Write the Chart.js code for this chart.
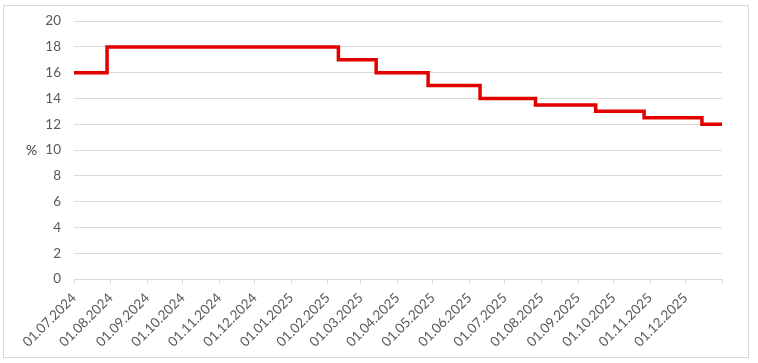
<!DOCTYPE html>
<html>
<head>
<meta charset="utf-8">
<script src="https://cdn.jsdelivr.net/npm/chart.js@4/dist/chart.umd.min.js"></script>
<style>
  html, body { margin: 0; padding: 0; background: #fff; }
  #wrap { width: 758px; height: 363px; position: relative; }
</style>
</head>
<body>
<div id="wrap"><canvas id="graph"></canvas></div>
<script>
// fechas de cambio de la tasa y sus valores (%)
let fechas = ["01.07.2024","29.07.2024","10.02.2025","14.03.2025","27.04.2025","10.06.2025","27.07.2025","16.09.2025","27.10.2025","15.12.2025","01.01.2026"];
let tasas = [16, 18, 17, 16, 15, 14, 13.5, 13, 12.5, 12, 12];
// etiquetas del eje x (primer dia de cada mes)
let etiquetas = ["01.07.2024","01.08.2024","01.09.2024","01.10.2024","01.11.2024","01.12.2024","01.01.2025","01.02.2025","01.03.2025","01.04.2025","01.05.2025","01.06.2025","01.07.2025","01.08.2025","01.09.2025","01.10.2025","01.11.2025","01.12.2025","01.01.2026"];
let ticksY = [0, 2, 4, 6, 8, 10, 12, 14, 16, 18, 20];

const base = Date.UTC(2024, 6, 1);
function dias(s) {
    const p = s.split('.');
    return (Date.UTC(+p[2], +p[1] - 1, +p[0]) - base) / 86400000;
}

const puntos = fechas.map((f, i) => ({ x: dias(f), y: tasas[i] }));
const diasTicks = etiquetas.map(dias);

const marco = {
    id: 'marco',
    beforeDraw(chart) {
        const ctx = chart.ctx;
        ctx.save();
        ctx.strokeStyle = '#d9d9d9';
        ctx.lineWidth = 1;
        ctx.strokeRect(3.5, 5.5, 745, 352);
        ctx.restore();
    },
    afterDraw(chart) {
        const ctx = chart.ctx;
        ctx.save();
        ctx.fillStyle = '#404040';
        ctx.font = '14px Lato';
        ctx.textAlign = 'left';
        ctx.textBaseline = 'middle';
        ctx.fillText('%', 26, chart.scales.y.getPixelForValue(10));
        ctx.restore();
    }
};

const graph = document.getElementById('graph');
new Chart(graph, {
    type: 'line',
    data: {
        datasets: [{
            data: puntos,
            stepped: true,
            borderColor: 'rgb(226,0,0)',
            borderWidth: 3.5,
            pointRadius: 0,
            fill: false
        }]
    },
    options: {
        responsive: true,
        maintainAspectRatio: false,
        animation: false,
        layout: { padding: { top: 19, right: 36, left: 0, bottom: 0 } },
        plugins: { legend: { display: false }, tooltip: { enabled: false } },
        scales: {
            x: {
                type: 'linear',
                min: diasTicks[0],
                max: diasTicks[diasTicks.length - 1],
                afterBuildTicks: (scale) => { scale.ticks = diasTicks.map(v => ({ value: v })); },
                afterFit: (scale) => { scale.height = 84; },
                grid: { drawOnChartArea: false, drawTicks: true, tickLength: 5, color: '#d9d9d9' },
                border: { color: '#d9d9d9' },
                ticks: {
                    autoSkip: false,
                    maxRotation: 45,
                    minRotation: 45,
                    padding: 6,
                    color: '#595959',
                    font: { family: 'Lato', size: 13.5 },
                    callback: (v, i) => i < etiquetas.length - 1 ? etiquetas[i] : ''
                }
            },
            y: {
                min: ticksY[0],
                max: ticksY[ticksY.length - 1],
                afterBuildTicks: (scale) => { scale.ticks = ticksY.map(v => ({ value: v })); },
                afterFit: (scale) => { scale.width = 74; },
                grid: { color: '#d9d9d9', drawTicks: false },
                border: { display: false },
                ticks: { padding: 13, color: '#595959', font: { family: 'Lato', size: 13.5 } }
            }
        }
    },
    plugins: [marco]
});
</script>
</body>
</html>
